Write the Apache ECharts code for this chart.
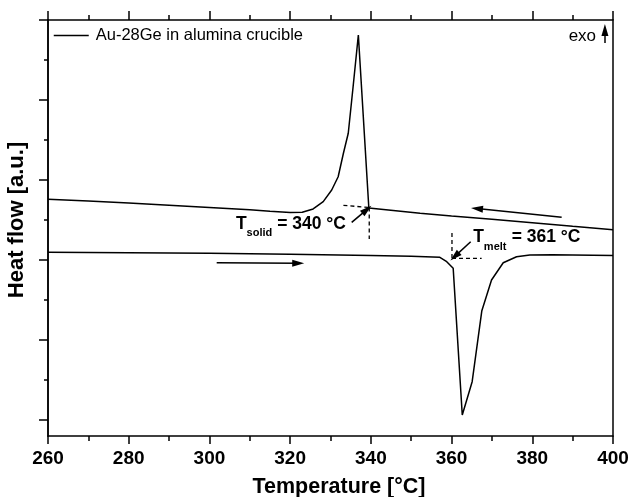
<!DOCTYPE html>
<html>
<head>
<meta charset="utf-8">
<script src="https://cdn.jsdelivr.net/npm/echarts@6/dist/echarts.min.js"></script>
<style>html,body{margin:0;padding:0;background:#fff}#c{width:630px;height:497px}</style>
</head>
<body>
<div id="c"></div>
<script>
// ---- Data ----
const seriesName = 'Au-28Ge in alumina crucible';
// Cooling run (time order: 400 -> 260 °C)
const coolT  = [400, 390, 380, 370, 360, 352.2, 339.5, 336.9, 335.6, 334.4, 333.2, 331.9, 330.3, 328.2, 325.7, 323, 320, 315, 310, 300, 290, 280, 270, 260];
const coolHF = [2.578, 2.621, 2.665, 2.709, 2.75, 2.784, 2.85, 5.013, 4.366, 3.784, 3.534, 3.241, 3.075, 2.929, 2.838, 2.796, 2.794, 2.809, 2.828, 2.856, 2.885, 2.913, 2.938, 2.959];
// Heating run (time order: 260 -> 400 °C)
const heatT  = [260, 280, 300, 320, 340, 350, 357.1, 358.8, 360.4, 362.65, 365.1, 367.5, 369.9, 372.8, 376.1, 379.4, 385, 390, 400];
const heatHF = [2.296, 2.291, 2.283, 2.271, 2.256, 2.246, 2.234, 2.179, 2.096, 0.263, 0.679, 1.566, 1.95, 2.166, 2.241, 2.263, 2.265, 2.263, 2.256];
// Onset construction lines (dashed)
const solidTangentT = [333.2, 339.6];
const solidTangentHF = [2.884, 2.856];
const solidDropT = [339.6, 339.6];
const solidDropHF = [2.856, 2.4625];
const meltDropT = [360.1, 360.1];
const meltDropHF = [2.5375, 2.221];
const meltTangentT = [360.1, 367.45];
const meltTangentHF = [2.221, 2.221];
// Arrows [fromT, fromHF, toT, toHF]
const arrows = [
  [335.25, 2.671, 339.0, 2.83],    // T_solid pointer
  [364.73, 2.429, 360.8, 2.245],   // T_melt pointer
  [301.8, 2.166, 322.0, 2.159],    // heating direction
  [387.28, 2.734, 366.3, 2.843],   // cooling direction
  [398.0, 4.9125, 398.0, 5.075]    // exo
];
// Axis ticks
const xTicks = {min: 260, max: 400, interval: 20};
const yMajorTicks = [0.2, 1.2, 2.2, 3.2, 4.2, 5.2];
const yMinorTicks = [0.7, 1.7, 2.7, 3.7, 4.7];
// Annotation texts [text, T, HF, fontSize, bold, align]
const notes = [
  ['T', 306.6, 2.65, 17.5, true, 'left'],
  ['solid', 309.2, 2.5375, 11, true, 'left'],
  ['= 340 °C', 316.8, 2.65, 17.5, true, 'left'],
  ['T', 365.4, 2.491, 17.5, true, 'left'],
  ['melt', 368.0, 2.366, 11, true, 'left'],
  ['= 361 °C', 374.9, 2.491, 17.5, true, 'left'],
  ['exo', 395.8, 5.0, 17, false, 'right']
];

const FONT = 'Liberation Sans, Arial, sans-serif';
const zip = (a, b) => a.map((v, i) => [v, b[i]]);
const dashed = (t, h) => ({
  type: 'line', data: zip(t, h), symbol: 'none', silent: true,
  lineStyle: {color: '#000', width: 1.3, type: [4, 3]}, z: 3
});

const chart = echarts.init(document.getElementById('c'), null, {renderer: 'canvas'});
const axisLine = {show: true, onZero: false, lineStyle: {color: '#000', width: 1.5}};
chart.setOption({
  animation: false,
  backgroundColor: '#fff',
  grid: {left: 48, right: 17, top: 20, bottom: 61, containLabel: false, outerBoundsMode: 'none'},
  legend: {
    data: [seriesName], left: 53, top: 27, padding: 0,
    itemWidth: 35, itemHeight: 14,
    itemStyle: {opacity: 0},
    lineStyle: {color: '#000', width: 1.5},
    textStyle: {fontFamily: FONT, fontSize: 16.5, color: '#000', padding: [0, 0, 0, 2]}
  },
  xAxis: [
    {
      type: 'value', position: 'bottom', min: xTicks.min, max: xTicks.max, interval: xTicks.interval,
      axisLine, splitLine: {show: false},
      axisTick: {inside: false, length: 8, lineStyle: {color: '#000', width: 1.5}},
      minorTick: {show: true, splitNumber: 2, length: 5, lineStyle: {color: '#000', width: 1.5}},
      minorSplitLine: {show: false},
      axisLabel: {fontFamily: FONT, fontSize: 19, fontWeight: 'bold', color: '#000', margin: 13},
      name: 'Temperature [°C]', nameLocation: 'middle', nameGap: 40,
      nameTextStyle: {fontFamily: FONT, fontSize: 21.5, fontWeight: 'bold', color: '#000', padding: [0, 0, 0, 17]}
    },
    {
      type: 'value', position: 'top', min: xTicks.min, max: xTicks.max, interval: xTicks.interval,
      axisLine, splitLine: {show: false},
      axisTick: {inside: false, length: 9, lineStyle: {color: '#000', width: 1.5}},
      minorTick: {show: true, splitNumber: 2, length: 5, lineStyle: {color: '#000', width: 1.5}},
      axisLabel: {show: false}
    }
  ],
  yAxis: [
    {
      type: 'value', position: 'left', min: 0, max: 5.2,
      axisLine, splitLine: {show: false},
      axisTick: {show: true, inside: false, length: 9, customValues: yMajorTicks, lineStyle: {color: '#000', width: 1.5}},
      axisLabel: {show: false},
      name: 'Heat flow [a.u.]', nameLocation: 'middle', nameGap: 20,
      nameTextStyle: {fontFamily: FONT, fontSize: 22, fontWeight: 'bold', color: '#000', padding: [0, 0, 0, 16]}
    },
    {
      type: 'value', position: 'left', min: 0, max: 5.2,
      axisLine, splitLine: {show: false},
      axisTick: {show: true, inside: false, length: 4, customValues: yMinorTicks, lineStyle: {color: '#000', width: 1.5}},
      axisLabel: {show: false}
    },
    {
      type: 'value', position: 'right', min: 0, max: 5.2,
      axisLine, splitLine: {show: false},
      axisTick: {show: false}, axisLabel: {show: false}
    }
  ],
  series: [
    {
      name: seriesName, type: 'line', data: zip(coolT, coolHF), symbol: 'none',
      lineStyle: {color: '#000', width: 1.5}, itemStyle: {color: '#000'}, z: 4
    },
    {
      name: seriesName, type: 'line', data: zip(heatT, heatHF), symbol: 'none',
      lineStyle: {color: '#000', width: 1.5}, itemStyle: {color: '#000'}, z: 4,
      markLine: {
        silent: true, animation: false, symbol: ['none', 'triangle'], symbolSize: [7, 12],
        label: {show: false},
        lineStyle: {color: '#000', width: 1.5, type: 'solid'},
        itemStyle: {color: '#000'},
        emphasis: {disabled: true},
        data: arrows.map(a => [{coord: [a[0], a[1]]}, {coord: [a[2], a[3]]}])
      }
    },
    dashed(solidTangentT, solidTangentHF),
    dashed(solidDropT, solidDropHF),
    dashed(meltDropT, meltDropHF),
    dashed(meltTangentT, meltTangentHF)
  ]
});

chart.setOption({
  graphic: notes.map(n => {
    const p = chart.convertToPixel({xAxisIndex: 0, yAxisIndex: 0}, [n[1], n[2]]);
    return {
      type: 'text', x: p[0], y: p[1], silent: true, z: 10,
      style: {
        text: n[0], fontFamily: FONT, fontSize: n[3], fontWeight: n[4] ? 'bold' : 'normal',
        fill: '#000', align: n[5], verticalAlign: 'middle'
      }
    };
  })
});
</script>
</body>
</html>
